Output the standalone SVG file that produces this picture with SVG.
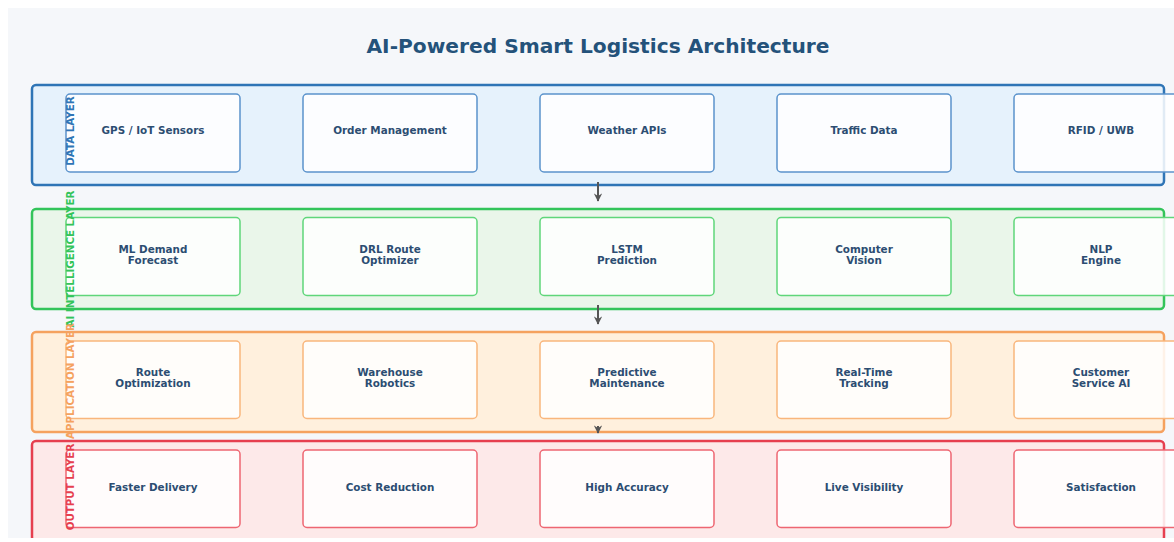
<svg xmlns="http://www.w3.org/2000/svg" width="1174" height="542" viewBox="0 0 1174 542">
<defs>
<clipPath id="panel"><rect x="8" y="8" width="1170" height="530"/></clipPath>
<marker id="ah" viewBox="0 0 10 10" refX="9" refY="5" markerWidth="4.2" markerHeight="4.2" orient="auto" markerUnits="strokeWidth"><path d="M0,0 L10,5 L0,10 L3,5 Z" fill="#555"/></marker>
<style>
.title{font-family:"DejaVu Sans",sans-serif;font-weight:bold;font-size:20.2px;fill:#24527a;text-anchor:middle}
.layer{stroke-width:2.5}
.node{fill:#ffffff;fill-opacity:0.86;stroke-width:1.5}
.nt{font-family:"DejaVu Sans",sans-serif;font-weight:bold;font-size:10.4px;fill:#2c4d72;text-anchor:middle}
.lbl{font-family:"DejaVu Sans",sans-serif;font-weight:bold;font-size:10.3px;text-anchor:middle}
.arrow{stroke:#555;stroke-width:2;fill:none;marker-end:url(#ah)}
</style>
</defs>
<rect x="0" y="0" width="1174" height="542" fill="#ffffff"/>
<g clip-path="url(#panel)">
<rect x="8" y="8" width="1170" height="530" fill="#f5f7fa"/>
<text class="title" x="598" y="52.5">AI-Powered Smart Logistics Architecture</text>

<g id="layer-data">
<rect class="layer" x="32" y="85" width="1132" height="100" rx="4" fill="#e6f2fc" stroke="#2f75b6"/>
</g>
<g id="layer-ai">
<rect class="layer" x="32" y="209" width="1132" height="100" rx="4" fill="#eaf6ea" stroke="#33c45a"/>
</g>
<g id="layer-app">
<rect class="layer" x="32" y="332" width="1132" height="100" rx="4" fill="#fff0dd" stroke="#f5a25f"/>
</g>
<g id="layer-output">
<rect class="layer" x="32" y="441" width="1132" height="100" rx="4" fill="#fde9e9" stroke="#e63f4f"/>
</g>

<g id="connectors">
<path class="arrow" d="M598,182 V201"/>
<path class="arrow" d="M598,305 V324"/>
<path class="arrow" d="M598,426 V433"/>
</g>

<g id="n-gps"><rect class="node" x="66" y="94" width="174" height="78" rx="4" stroke="#5b93cc"/><text class="nt" x="153" y="133.5">GPS / IoT Sensors</text></g>
<g id="n-order"><rect class="node" x="303" y="94" width="174" height="78" rx="4" stroke="#5b93cc"/><text class="nt" x="390" y="133.5">Order Management</text></g>
<g id="n-weather"><rect class="node" x="540" y="94" width="174" height="78" rx="4" stroke="#5b93cc"/><text class="nt" x="627" y="133.5">Weather APIs</text></g>
<g id="n-traffic"><rect class="node" x="777" y="94" width="174" height="78" rx="4" stroke="#5b93cc"/><text class="nt" x="864" y="133.5">Traffic Data</text></g>
<g id="n-rfid"><rect class="node" x="1014" y="94" width="174" height="78" rx="4" stroke="#5b93cc"/><text class="nt" x="1101" y="133.5">RFID / UWB</text></g>

<g id="n-ml"><rect class="node" x="66" y="217.5" width="174" height="78" rx="4" stroke="#5fd67a"/><text class="nt" x="153" y="252.5">ML Demand</text><text class="nt" x="153" y="263.5">Forecast</text></g>
<g id="n-drl"><rect class="node" x="303" y="217.5" width="174" height="78" rx="4" stroke="#5fd67a"/><text class="nt" x="390" y="252.5">DRL Route</text><text class="nt" x="390" y="263.5">Optimizer</text></g>
<g id="n-lstm"><rect class="node" x="540" y="217.5" width="174" height="78" rx="4" stroke="#5fd67a"/><text class="nt" x="627" y="252.5">LSTM</text><text class="nt" x="627" y="263.5">Prediction</text></g>
<g id="n-cv"><rect class="node" x="777" y="217.5" width="174" height="78" rx="4" stroke="#5fd67a"/><text class="nt" x="864" y="252.5">Computer</text><text class="nt" x="864" y="263.5">Vision</text></g>
<g id="n-nlp"><rect class="node" x="1014" y="217.5" width="174" height="78" rx="4" stroke="#5fd67a"/><text class="nt" x="1101" y="252.5">NLP</text><text class="nt" x="1101" y="263.5">Engine</text></g>

<g id="n-route"><rect class="node" x="66" y="341" width="174" height="77.5" rx="4" stroke="#f9b67c"/><text class="nt" x="153" y="376">Route</text><text class="nt" x="153" y="387">Optimization</text></g>
<g id="n-robot"><rect class="node" x="303" y="341" width="174" height="77.5" rx="4" stroke="#f9b67c"/><text class="nt" x="390" y="376">Warehouse</text><text class="nt" x="390" y="387">Robotics</text></g>
<g id="n-maint"><rect class="node" x="540" y="341" width="174" height="77.5" rx="4" stroke="#f9b67c"/><text class="nt" x="627" y="376">Predictive</text><text class="nt" x="627" y="387">Maintenance</text></g>
<g id="n-track"><rect class="node" x="777" y="341" width="174" height="77.5" rx="4" stroke="#f9b67c"/><text class="nt" x="864" y="376">Real-Time</text><text class="nt" x="864" y="387">Tracking</text></g>
<g id="n-cs"><rect class="node" x="1014" y="341" width="174" height="77.5" rx="4" stroke="#f9b67c"/><text class="nt" x="1101" y="376">Customer</text><text class="nt" x="1101" y="387">Service AI</text></g>

<g id="n-fast"><rect class="node" x="66" y="450" width="174" height="77.5" rx="4" stroke="#ee6672"/><text class="nt" x="153" y="490.5">Faster Delivery</text></g>
<g id="n-cost"><rect class="node" x="303" y="450" width="174" height="77.5" rx="4" stroke="#ee6672"/><text class="nt" x="390" y="490.5">Cost Reduction</text></g>
<g id="n-acc"><rect class="node" x="540" y="450" width="174" height="77.5" rx="4" stroke="#ee6672"/><text class="nt" x="627" y="490.5">High Accuracy</text></g>
<g id="n-live"><rect class="node" x="777" y="450" width="174" height="77.5" rx="4" stroke="#ee6672"/><text class="nt" x="864" y="490.5">Live Visibility</text></g>
<g id="n-sat"><rect class="node" x="1014" y="450" width="174" height="77.5" rx="4" stroke="#ee6672"/><text class="nt" x="1101" y="490.5">Satisfaction</text></g>

<g id="labels">
<text class="lbl" fill="#2f75b6" transform="translate(74,131) rotate(-90)">DATA LAYER</text>
<text class="lbl" fill="#33c45a" transform="translate(74,259) rotate(-90)">AI INTELLIGENCE LAYER</text>
<text class="lbl" fill="#f5a25f" transform="translate(74,381) rotate(-90)">APPLICATION LAYER</text>
<text class="lbl" fill="#e63f4f" transform="translate(74,487) rotate(-90)">OUTPUT LAYER</text>
</g>
</g>
</svg>
